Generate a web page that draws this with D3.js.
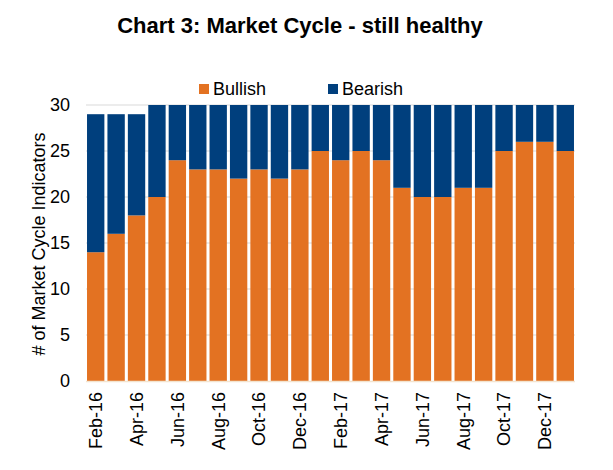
<!DOCTYPE html>
<html>
<head>
<meta charset="utf-8">
<script src="https://cdn.jsdelivr.net/npm/d3@7"></script>
<style>
  body { margin: 0; background: #fff; }
  svg { font-family: "Liberation Sans", Arial, sans-serif; }
</style>
</head>
<body>
<svg id="chart" width="613" height="470"></svg>
<script>
const months = ['Feb-16','Mar-16','Apr-16','May-16','Jun-16','Jul-16','Aug-16','Sep-16','Oct-16','Nov-16','Dec-16',
  'Jan-17','Feb-17','Mar-17','Apr-17','May-17','Jun-17','Jul-17','Aug-17','Sep-17','Oct-17','Nov-17','Dec-17','Jan-18'];
const bullish = [14,16,18,20,24,23,23,22,23,22,23,25,24,25,24,21,20,20,21,21,25,26,26,25];
const bearish = [15,13,11,10,6,7,7,8,7,8,7,5,6,5,6,9,10,10,9,9,5,4,4,5];
const yTicks = [0,5,10,15,20,25,30];
const seriesNames = ['Bullish','Bearish'];
const colors = { Bullish: '#e37222', Bearish: '#003f7d' };

const svg = d3.select('#chart');
const width = 613, height = 470;
const plot = { left: 86, right: 575, top: 105, bottom: 381 };
const font = '"Liberation Sans", Arial, sans-serif';

const x = d3.scaleBand().domain(months).range([plot.left, plot.right]).paddingInner(0.15).paddingOuter(0.05);
const y = d3.scaleLinear().domain([0, 30]).range([plot.bottom, plot.top]);

// title
svg.append('text').attr('x', 300).attr('y', 33).attr('text-anchor', 'middle')
  .attr('font-size', 22).attr('font-weight', 'bold').text('Chart 3: Market Cycle - still healthy');

// gridlines
svg.append('g').selectAll('line').data(yTicks.filter(t => t > 0)).join('line')
  .attr('x1', plot.left).attr('x2', plot.right)
  .attr('y1', d => y(d)).attr('y2', d => y(d))
  .attr('stroke', '#d9d9d9').attr('stroke-width', 1);

// stacked bars
const rows = months.map((m, i) => ({ month: m, Bullish: bullish[i], Bearish: bearish[i] }));
const stack = d3.stack().keys(seriesNames)(rows);
svg.append('g').selectAll('g').data(stack).join('g')
  .attr('fill', d => colors[d.key])
  .selectAll('rect').data(d => d).join('rect')
  .attr('x', d => x(d.data.month))
  .attr('width', x.bandwidth())
  .attr('y', d => y(d[1]))
  .attr('height', d => y(d[0]) - y(d[1]));

// baseline
svg.append('line').attr('x1', plot.left).attr('x2', plot.right)
  .attr('y1', y(0) + 0.5).attr('y2', y(0) + 0.5).attr('stroke', '#f3e4cf').attr('stroke-width', 1.5);

// y axis
const yAxis = svg.append('g').attr('transform', `translate(${plot.left - 16},0)`)
  .call(d3.axisLeft(y).tickValues(yTicks).tickSize(0).tickPadding(0));
yAxis.select('.domain').remove();
yAxis.selectAll('text').attr('font-size', 18).attr('fill', '#000').attr('font-family', font);

svg.append('text').attr('transform', `translate(45,${244}) rotate(-90)`)
  .attr('text-anchor', 'middle').attr('font-size', 18).text('# of Market Cycle Indicators');

// x axis labels (every other month)
const xAxis = svg.append('g').attr('transform', `translate(0,${y(0)})`)
  .call(d3.axisBottom(x).tickValues(months.filter((m, i) => i % 2 === 0)).tickSize(0));
xAxis.select('.domain').remove();
xAxis.selectAll('text')
  .attr('font-size', 18).attr('fill', '#000').attr('font-family', font)
  .attr('text-anchor', 'end').attr('dy', '0.35em').attr('x', -11).attr('y', 0)
  .attr('transform', 'rotate(-90)');

// legend
const legendPos = [{ name: 'Bullish', x: 199 }, { name: 'Bearish', x: 328 }];
const legend = svg.append('g').selectAll('g').data(legendPos).join('g')
  .attr('transform', d => `translate(${d.x},95)`);
legend.append('rect').attr('x', 0).attr('y', -11).attr('width', 10).attr('height', 10)
  .attr('fill', d => colors[d.name]);
legend.append('text').attr('x', 14).attr('y', 0).attr('font-size', 18).text(d => d.name);
</script>
</body>
</html>
